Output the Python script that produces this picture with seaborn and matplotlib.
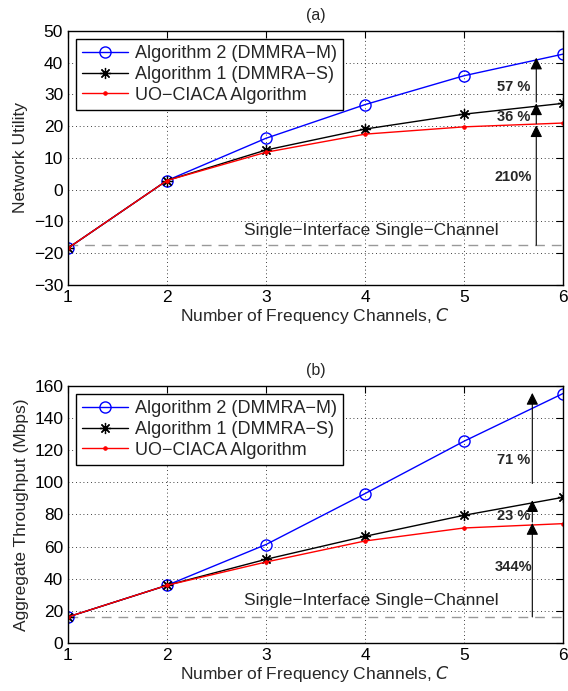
import seaborn as sns
import matplotlib.pyplot as plt
import pandas as pd

channels = [1, 2, 3, 4, 5, 6]

# (a) network utility
util_alg2 = [-18.4, 2.9, 16.2, 26.8, 35.9, 42.7]
util_alg1 = [-18.4, 2.9, 12.5, 19.1, 23.8, 27.2]
util_uo = [-18.4, 2.9, 11.8, 17.5, 19.8, 21.0]
util_baseline = -17.5

# (b) aggregate throughput
thr_alg2 = [16.2, 35.9, 61.3, 93.0, 125.6, 155.3]
thr_alg1 = [16.2, 35.9, 52.1, 66.4, 79.5, 90.7]
thr_uo = [16.2, 35.9, 50.4, 63.5, 71.6, 74.3]
thr_baseline = 16.2

series_names = ['Algorithm 2 (DMMRA\u2212M)', 'Algorithm 1 (DMMRA\u2212S)', 'UO\u2212CIACA Algorithm']

# arrows: (start, end) on the y axis at a fixed x
util_arrow_x = 5.73
util_arrows = [(-17.5, 20.3), (20.8, 27.2), (27.6, 41.6)]
util_notes = ['210%', '36 %', '57 %']
util_note_y = [4.1, 22.8, 32.5]

thr_arrow_x = 5.69
thr_arrows = [(16.2, 74.7), (75.3, 88.9), (99.3, 155.7)]
thr_notes = ['344%', '23 %', '71 %']
thr_note_y = [47.3, 79.0, 114.2]

sns.set_style('white')
plt.rcParams['font.family'] = ['Liberation Sans', 'DejaVu Sans']
plt.rcParams['axes.unicode_minus'] = True
plt.rcParams['legend.numpoints'] = 1

colors = ['#0000ff', 'black', '#ff0000']
marker_styles = [
    dict(marker='o', markersize=8, markerfacecolor='none', markeredgecolor='#0000ff',
         markeredgewidth=1),
    dict(marker=(8, 2, 0), markersize=8, markeredgecolor='black', markeredgewidth=0.9),
    dict(marker='.', markersize=5, markerfacecolor='#ff0000', markeredgecolor='#ff0000'),
]


def draw_panel(ax, series, baseline, arrow_x, arrows, notes, note_y, ylim, yticks,
               ylabel, title, text_y):
    for name, vals, c, st in zip(series_names, series, colors, marker_styles):
        df = pd.DataFrame({'C': channels, 'v': vals})
        sns.lineplot(data=df, x='C', y='v', ax=ax, label=name, color=c, linewidth=1)
        ax.lines[-1].set(**st)
    ax.axhline(baseline, color='#999999', linestyle=(0, (7, 5)), linewidth=1, zorder=1)
    for (y0, y1) in arrows:
        ax.annotate('', xy=(arrow_x, y1), xytext=(arrow_x, y0),
                    arrowprops=dict(arrowstyle='-|>', color='black', lw=0.8,
                                    mutation_scale=18, shrinkA=0, shrinkB=0))
    for s, y in zip(notes, note_y):
        ax.text(5.5, y, s, fontsize=10.5, fontweight='bold', ha='center', va='center')
    ax.text(2.78, text_y, 'Single\u2212Interface Single\u2212Channel', fontsize=12.5,
            ha='left', va='center')
    ax.set_xlim(1, 6)
    ax.set_ylim(*ylim)
    ax.set_xticks(channels)
    ax.set_yticks(yticks)
    ax.grid(True, color='black', linestyle=(0, (1, 3.5)), linewidth=0.6)
    ax.tick_params(direction='in', top=True, right=True, length=5, labelsize=12.5,
                   width=0.8, colors='black')
    for sp in ax.spines.values():
        sp.set_color('black')
        sp.set_linewidth(1)
    ax.set_xlabel('Number of Frequency Channels, $\\it{C}$', fontsize=12.5, labelpad=1)
    ax.set_ylabel(ylabel, fontsize=12.5, labelpad=4)
    ax.set_title(title, fontsize=11.5, pad=8)
    leg = ax.legend(loc='upper left', fontsize=13, handlelength=2.5, handletextpad=0.4,
                    labelspacing=0.2, borderpad=0.35, borderaxespad=0.45,
                    fancybox=False, framealpha=1, edgecolor='black')
    leg.get_frame().set_linewidth(1)


fig = plt.figure(figsize=(5.68, 6.91), dpi=100)
ax1 = fig.add_axes([0.1197, 0.5876, 0.8715, 0.3676])
ax2 = fig.add_axes([0.1197, 0.0695, 0.8715, 0.3719])

draw_panel(ax1, [util_alg2, util_alg1, util_uo], util_baseline, util_arrow_x, util_arrows,
           util_notes, util_note_y, (-30, 50), list(range(-30, 51, 10)),
           'Network Utility', '(a)', -13)
draw_panel(ax2, [thr_alg2, thr_alg1, thr_uo], thr_baseline, thr_arrow_x, thr_arrows,
           thr_notes, thr_note_y, (0, 160), list(range(0, 161, 20)),
           'Aggregate Throughput (Mbps)', '(b)', 26.4)

fig.savefig('out.png', dpi=100)
